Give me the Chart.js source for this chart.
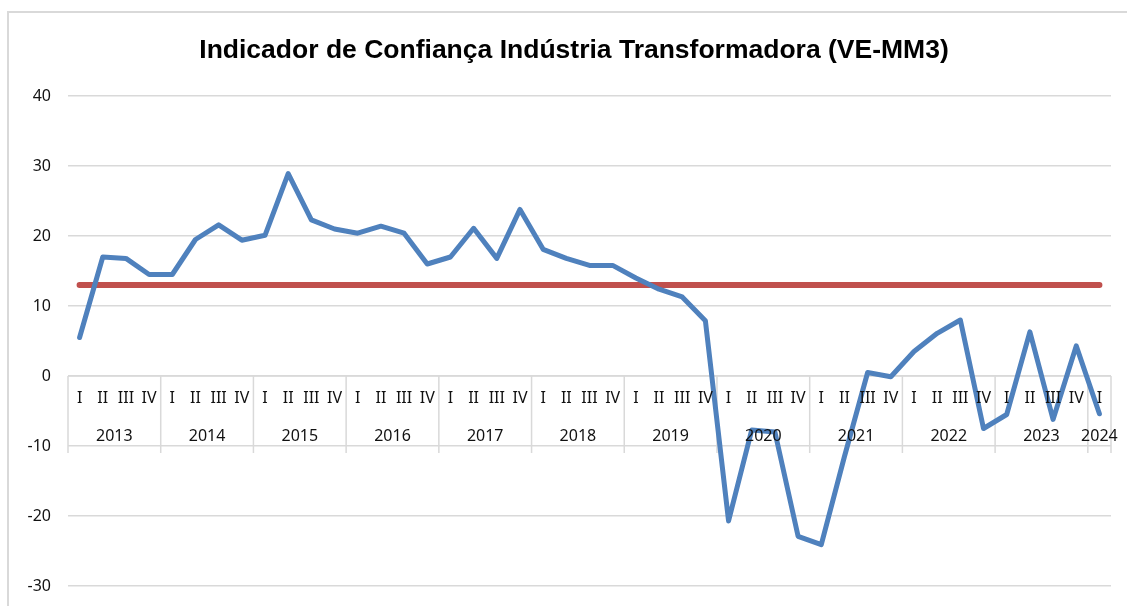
<!DOCTYPE html>
<html>
<head>
<meta charset="utf-8">
<script src="https://cdn.jsdelivr.net/npm/chart.js@4.4.1/dist/chart.umd.min.js"></script>
<style>
  html, body { margin: 0; padding: 0; background: #ffffff; }
  #wrap { position: relative; width: 1127px; height: 606px; }
</style>
</head>
<body>
<div id="wrap"><canvas id="c" width="1127" height="606"></canvas></div>
<script>
// ---- data ----
const title = 'Indicador de Confiança Indústria Transformadora (VE-MM3)';
const years = ['2013','2014','2015','2016','2017','2018','2019','2020','2021','2022','2023','2024'];
const quarters = ['I','II','III','IV'];
const quartersPerYear = [4,4,4,4,4,4,4,4,4,4,4,1];
const indicator = [
  5.5, 17.0, 16.8, 14.5,
  14.5, 19.5, 21.6, 19.4,
  20.1, 28.9, 22.3, 21.0,
  20.4, 21.4, 20.4, 16.0,
  17.0, 21.1, 16.8, 23.8,
  18.1, 16.8, 15.8, 15.8,
  14.0, 12.4, 11.3, 7.9,
  -20.7, -7.7, -8.0, -22.9,
  -24.1, -11.5, 0.5, -0.1,
  3.5, 6.1, 8.0, -7.5,
  -5.5, 6.3, -6.2, 4.3,
  -5.4
];
const referenceLevel = 13;
const yTicks = [-30, -20, -10, 0, 10, 20, 30, 40];

// categories built from the arrays above
const categories = [];
years.forEach((yr, i) => {
  for (let q = 0; q < quartersPerYear[i]; q++) categories.push(quarters[q] + ' ' + yr);
});
const referenceSeries = categories.map(() => referenceLevel);

const GRID = '#d9d9d9';
const TXT = '#111111';
const LABEL_FONT = '16px "Noto Sans"';

const frame = {
  id: 'frame',
  beforeDraw(chart) {
    const ctx = chart.ctx;
    ctx.save();
    ctx.fillStyle = '#ffffff';
    ctx.fillRect(0, 0, chart.width, chart.height);
    ctx.strokeStyle = GRID;
    ctx.lineWidth = 2;
    ctx.beginPath();
    ctx.moveTo(8, chart.height);
    ctx.lineTo(8, 12);
    ctx.lineTo(chart.width, 12);
    ctx.stroke();
    ctx.fillStyle = '#000000';
    ctx.font = 'bold 26.5px "Liberation Sans", Arial, sans-serif';
    ctx.textAlign = 'center';
    ctx.textBaseline = 'alphabetic';
    ctx.fillText(title, 574, 57.5);
    ctx.restore();
  }
};

const catAxis = {
  id: 'catAxis',
  beforeDatasetsDraw(chart) {
    const {ctx, chartArea, scales: {x, y}} = chart;
    const y0 = y.getPixelForValue(0);
    const yb = y.getPixelForValue(-10) + 7;
    const w = x.getPixelForValue(1) - x.getPixelForValue(0);
    ctx.save();
    ctx.strokeStyle = GRID;
    ctx.lineWidth = 1.5;
    ctx.beginPath();
    ctx.moveTo(chartArea.left, y0);
    ctx.lineTo(chartArea.right, y0);
    let idx = 0;
    const bounds = [x.getPixelForValue(0) - w / 2];
    quartersPerYear.forEach(n => { idx += n; bounds.push(x.getPixelForValue(idx - 1) + w / 2); });
    bounds.forEach(bx => { ctx.moveTo(bx, y0); ctx.lineTo(bx, yb); });
    ctx.stroke();
    ctx.restore();
  },
  afterDatasetsDraw(chart) {
    const {ctx, scales: {x, y}} = chart;
    const y0 = y.getPixelForValue(0);
    ctx.save();
    ctx.fillStyle = TXT;
    ctx.font = LABEL_FONT;
    ctx.textAlign = 'center';
    ctx.textBaseline = 'middle';
    let idx = 0;
    years.forEach((yr, i) => {
      const n = quartersPerYear[i];
      for (let q = 0; q < n; q++) {
        ctx.fillText(quarters[q], x.getPixelForValue(idx + q), y0 + 22);
      }
      const cx = (x.getPixelForValue(idx) + x.getPixelForValue(idx + n - 1)) / 2;
      ctx.fillText(yr, cx, y0 + 60);
      idx += n;
    });
    ctx.restore();
  }
};

new Chart(document.getElementById('c'), {
  type: 'line',
  data: {
    labels: categories,
    datasets: [
      {
        label: 'Indicador',
        data: indicator,
        borderColor: '#4F81BD',
        borderWidth: 5,
        pointRadius: 0,
        tension: 0,
        borderJoinStyle: 'round',
        borderCapStyle: 'round',
        fill: false
      },
      {
        label: 'Média',
        data: referenceSeries,
        borderColor: '#C0504D',
        borderWidth: 6,
        pointRadius: 0,
        tension: 0,
        borderCapStyle: 'round',
        fill: false
      }
    ]
  },
  options: {
    responsive: false,
    animation: false,
    devicePixelRatio: 1,
    layout: { padding: { left: 8, right: 16, top: 96, bottom: 20 } },
    plugins: {
      legend: { display: false },
      tooltip: { enabled: false },
      title: { display: false }
    },
    scales: {
      x: {
        type: 'category',
        offset: true,
        display: false
      },
      y: {
        min: -30,
        max: 40,
        afterFit(scale) { scale.width = 60; },
        afterBuildTicks(scale) { scale.ticks = yTicks.map(v => ({ value: v })); },
        ticks: {
          color: TXT,
          font: { family: '"Noto Sans"', size: 16 },
          padding: 0
        },
        border: { display: false },
        grid: {
          color: GRID,
          lineWidth: 1.5,
          drawTicks: true,
          tickLength: 17,
          tickColor: 'rgba(0,0,0,0)'
        }
      }
    }
  },
  plugins: [frame, catAxis]
});
</script>
</body>
</html>
